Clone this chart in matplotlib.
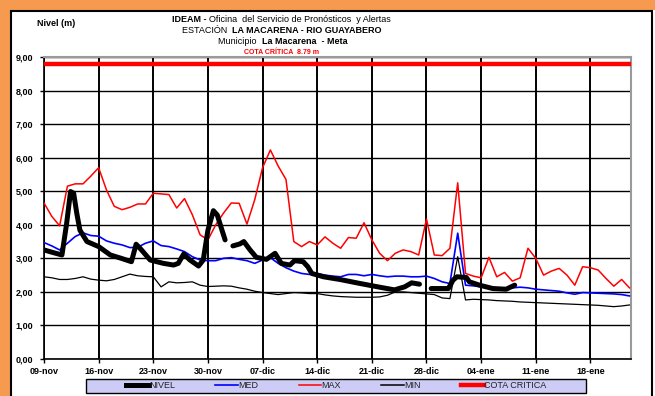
import numpy as np
import matplotlib.pyplot as plt
from matplotlib.patches import Rectangle
from matplotlib.lines import Line2D

plt.rcParams['font.family'] = ['Liberation Sans', 'DejaVu Sans']

W, H = 655, 396

# fechas del eje x (dias desde 09-nov)
fechas = ["09-nov", "16-nov", "23-nov", "30-nov", "07-dic", "14-dic",
          "21-dic", "28-dic", "04-ene", "11-ene", "18-ene"]
dias_fecha = [0, 7, 14, 21, 28, 35, 42, 49, 56, 63, 70]
niveles_y = [0, 1, 2, 3, 4, 5, 6, 7, 8, 9]

dias = np.arange(76)
maximo = [4.65, 4.25, 3.97, 5.15, 5.22, 5.22, 5.45, 5.70, 5.04, 4.55,
          4.45, 4.52, 4.62, 4.62, 4.94, 4.92, 4.90, 4.50, 4.78, 4.30,
          3.70, 3.55, 4.00, 4.35, 4.65, 4.64, 4.02, 4.75, 5.70, 6.23,
          5.75, 5.35, 3.50, 3.35, 3.50, 3.40, 3.64, 3.45, 3.30, 3.62,
          3.60, 4.06, 3.55, 3.15, 2.93, 3.15, 3.25, 3.20, 3.10, 4.17,
          3.10, 3.08, 3.30, 5.25, 2.55, 2.47, 2.42, 3.03, 2.45, 2.58,
          2.32, 2.42, 3.30, 3.00, 2.50, 2.62, 2.70, 2.50, 2.20, 2.75,
          2.72, 2.65, 2.40, 2.17, 2.37, 2.12]
medio = [3.47, 3.37, 3.25, 3.45, 3.65, 3.76, 3.68, 3.66, 3.52, 3.45,
         3.40, 3.32, 3.33, 3.45, 3.52, 3.38, 3.35, 3.28, 3.20, 3.05,
         2.95, 2.93, 2.93, 3.00, 3.02, 2.97, 2.93, 2.85, 2.95, 3.02,
         2.85, 2.72, 2.62, 2.55, 2.52, 2.55, 2.50, 2.47, 2.45, 2.52,
         2.52, 2.48, 2.52, 2.48, 2.45, 2.47, 2.47, 2.45, 2.45, 2.47,
         2.40, 2.30, 2.25, 3.75, 2.20, 2.18, 2.15, 2.13, 2.12, 2.10,
         2.12, 2.14, 2.12, 2.08, 2.06, 2.04, 2.02, 1.97, 1.93, 1.98,
         1.97, 1.96, 1.95, 1.94, 1.92, 1.88]
minimo = [2.45, 2.42, 2.37, 2.37, 2.40, 2.45, 2.38, 2.35, 2.33, 2.37,
          2.45, 2.53, 2.48, 2.46, 2.45, 2.15, 2.30, 2.27, 2.28, 2.30,
          2.20, 2.16, 2.17, 2.18, 2.17, 2.12, 2.08, 2.02, 1.98, 1.95,
          1.92, 1.95, 1.98, 1.97, 1.95, 1.95, 1.91, 1.88, 1.86, 1.85,
          1.84, 1.84, 1.84, 1.85, 1.90, 2.00, 2.00, 1.98, 1.96, 1.94,
          1.92, 1.82, 1.80, 3.05, 1.76, 1.78, 1.77, 1.76, 1.74, 1.73,
          1.72, 1.70, 1.69, 1.68, 1.67, 1.66, 1.65, 1.64, 1.63, 1.62,
          1.61, 1.60, 1.58, 1.56, 1.58, 1.61]

nivel_dias = [0, 1.2, 2.3, 2.9, 3.4, 3.8, 4.2, 4.6, 5.5, 7.0, 8.5, 9.9,
              11.2, 11.8, 12.3, 13.6, 15.3, 16.6, 17.2, 17.9, 18.7, 19.8,
              20.4, 21.0, 21.7, 22.2, 22.8, 23.2, 23.7,
              24.2, 25.1, 25.6, 26.4, 27.2, 28.5, 29.6, 30.4, 31.5, 32.1,
              33.2, 33.8, 34.3, 35.8, 37.9, 40.5, 43.0, 44.9, 46.2, 47.1,
              48.1, 48.8,
              49.6, 51.8, 52.4, 52.9, 54.1, 54.5, 55.8, 57.5, 59.2, 60.3]
nivel = [3.25, 3.17, 3.10, 4.04, 4.99, 4.94, 4.34, 3.84, 3.50, 3.35, 3.10, 3.00,
         2.90, 3.42, 3.30, 2.95, 2.85, 2.80, 2.85, 3.13, 2.95, 2.77,
         2.95, 3.84, 4.42, 4.29, 3.84, 3.55, np.nan,
         3.37, 3.43, 3.50, 3.25, 3.03, 2.97, 3.15, 2.85, 2.80, 2.93,
         2.90, 2.75, 2.55, 2.45, 2.37, 2.25, 2.14, 2.06, 2.15, 2.27,
         2.23, np.nan,
         2.10, 2.10, 2.35, 2.45, 2.43, 2.30, 2.20, 2.10, 2.08, 2.20]
cota = 8.79

fig = plt.figure(figsize=(W / 100, H / 100), dpi=100)
ax = fig.add_axes([44 / W, 1 - 359 / H, (631 - 44) / W, (359 - 57) / H])

ax.axhline(cota, color='#ff0000', lw=3.2, zorder=3)
ax.plot(dias, maximo, color='#ff0000', lw=1.1, zorder=4)
ax.plot(dias, medio, color='#0000ff', lw=1.2, zorder=4)
ax.plot(dias, minimo, color='black', lw=0.9, zorder=4)
ax.plot(nivel_dias, nivel, color='black', lw=3.6, zorder=5,
        solid_capstyle='round', solid_joinstyle='round')

ax.set_xlim(0, 75.2)
ax.set_ylim(0, 9)
ax.set_xticks(dias_fecha)
ax.set_xticklabels(fechas, fontsize=6.5, fontweight='bold')
ax.set_yticks(niveles_y)
ax.set_yticklabels([f"{v:.2f}".replace('.', ',') for v in niveles_y],
                   fontsize=6.5, fontweight='bold')
ax.tick_params(axis='both', length=3, width=1, color='black', pad=3)
ax.tick_params(axis='y', pad=5)

ax.set_axisbelow(True)
ax.xaxis.grid(True, color='black', lw=1.4)
ax.yaxis.grid(True, color='black', lw=1.0)
for lado in ['top', 'right']:
    ax.spines[lado].set_color('#9a9a9a')
    ax.spines[lado].set_linewidth(1.5)
for lado in ['left', 'bottom']:
    ax.spines[lado].set_color('black')
    ax.spines[lado].set_linewidth(1.2)

# marco
fig.add_artist(Rectangle((0, 1 - 10 / H), 1, 10 / H, transform=fig.transFigure,
                         facecolor='#f59a4e', edgecolor='none'))
fig.add_artist(Rectangle((0, 0), 10 / W, 1, transform=fig.transFigure,
                         facecolor='#f59a4e', edgecolor='none'))
fig.add_artist(Rectangle((10.5 / W, -0.05), (652 - 10.5) / W, 1.05 - 11 / H,
                         transform=fig.transFigure, fill=False,
                         edgecolor='black', lw=1.5))


def linea(x, y, partes, size, color='black'):
    t = fig.text(x / W, 1 - y / H, partes[0][0], fontsize=size,
                 fontweight=partes[0][1], color=color, ha='left', va='center')
    for texto, peso in partes[1:]:
        t = ax.annotate(texto, xy=(1, 0), xycoords=t, ha='left', va='bottom',
                        fontsize=size, fontweight=peso, color=color,
                        annotation_clip=False)


linea(172, 19, [("IDEAM - ", 'bold'),
                ("Oficina  del Servicio de Pronósticos  y Alertas", 'normal')], 6.5)
linea(182, 30.5, [("ESTACIÓN  ", 'normal'),
                  ("LA MACARENA - RIO GUAYABERO", 'bold')], 6.5)
linea(218, 41.5, [("Municipio  ", 'normal'), ("La Macarena  - Meta", 'bold')], 6.5)
fig.text(281 / W, 1 - 52 / H, "COTA CRÍTICA  8.79 m", fontsize=5, fontweight='bold',
         color='#ff0000', ha='center', va='center')
fig.text(37 / W, 1 - 23 / H, "Nivel (m)", fontsize=6.5, fontweight='bold',
         ha='left', va='center')

# caja de la leyenda (debajo de los ejes para que la leyenda quede encima)
fig.add_artist(Rectangle((86 / W, 1 - 393 / H), 500 / W, 14 / H,
                         transform=fig.transFigure, facecolor='#ccccf7',
                         edgecolor='black', lw=1.0, zorder=-1))

manijas = [Line2D([], [], color='black', lw=3.6),
           Line2D([], [], color='#0000ff', lw=1.2),
           Line2D([], [], color='#ff0000', lw=1.1),
           Line2D([], [], color='black', lw=1.1),
           Line2D([], [], color='#ff0000', lw=3.2)]
etiquetas = ["NIVEL", "MED", "MAX", "MIN", "COTA CRITICA"]
leg = ax.legend(manijas, etiquetas, loc='center', ncol=5,
                bbox_to_anchor=(336 / W, 1 - 386 / H),
                bbox_transform=fig.transFigure, frameon=False,
                fontsize=6.5, handlelength=2.5, handletextpad=0.0,
                borderpad=0, borderaxespad=0, columnspacing=4.5)
for t in leg.get_texts():
    t.set_color('#222222')

fig.savefig('out.png', dpi=100)
